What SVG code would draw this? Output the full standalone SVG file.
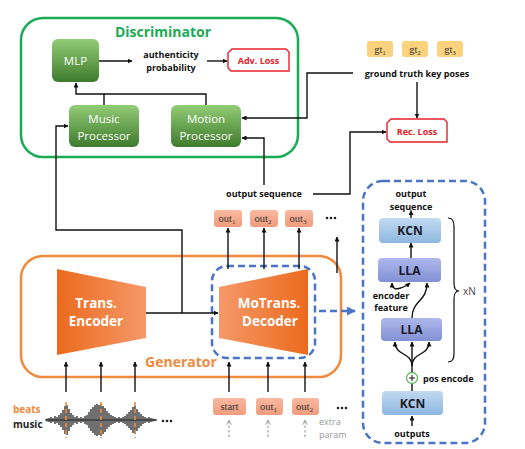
<svg xmlns="http://www.w3.org/2000/svg" width="525" height="449" viewBox="0 0 525 449">
<defs>
<linearGradient id="gGreen" x1="0" y1="0" x2="0" y2="1"><stop offset="0" stop-color="#93cc76"/><stop offset="1" stop-color="#3e7b2c"/></linearGradient>
<linearGradient id="gEnc" x1="0" y1="0" x2="1" y2="0"><stop offset="0" stop-color="#ec6a1c"/><stop offset="1" stop-color="#f5996a"/></linearGradient>
<linearGradient id="gDec" x1="0" y1="0" x2="1" y2="0"><stop offset="0" stop-color="#f5996a"/><stop offset="1" stop-color="#ec6a1c"/></linearGradient>
<linearGradient id="gKCN" x1="0" y1="0" x2="0" y2="1"><stop offset="0" stop-color="#c2daf1"/><stop offset="1" stop-color="#8db6df"/></linearGradient>
<linearGradient id="gLLA" x1="0" y1="0" x2="0" y2="1"><stop offset="0" stop-color="#aeb8ec"/><stop offset="1" stop-color="#8290d4"/></linearGradient>
<linearGradient id="gOut" x1="0" y1="0" x2="0" y2="1"><stop offset="0" stop-color="#f8b9a0"/><stop offset="1" stop-color="#f29c7c"/></linearGradient>
<marker id="ah" viewBox="0 0 10 10" refX="9" refY="5" markerWidth="5" markerHeight="5" markerUnits="userSpaceOnUse" orient="auto"><path d="M0 0 L10 5 L0 10 z" fill="#111"/></marker>
<marker id="ahBlue" viewBox="0 0 10 10" refX="9" refY="5" markerWidth="9" markerHeight="9" markerUnits="userSpaceOnUse" orient="auto"><path d="M0 0 L10 5 L0 10 z" fill="#4a74c4"/></marker>
<marker id="ahGray" viewBox="0 0 10 10" refX="9" refY="5" markerWidth="6" markerHeight="6" markerUnits="userSpaceOnUse" orient="auto"><path d="M1 1 L9 5 L1 9" fill="none" stroke="#999" stroke-width="1.5"/></marker>
</defs>
<style>
.b{font-family:"Open Sans","Noto Sans",sans-serif;font-weight:bold;}
.r{font-family:"Open Sans","Noto Sans",sans-serif;}
.s{font-family:"Liberation Serif","DejaVu Serif",serif;font-size:10.5px;fill:#333;}
.lbl{font-size:9px;fill:#111;}
.wt{fill:#fff;font-size:11.5px;}
.big{fill:#fff;font-size:13.5px;}
.conn{fill:none;stroke:#111;stroke-width:1.4;}
.loss{fill:#fff;stroke:#e8202a;stroke-width:1.4;}
.losst{fill:#e8202a;font-size:9px;}
.kt{font-size:12px;fill:#1a1a2a;}
</style>
<rect width="525" height="449" fill="#fff"/>

<!-- Discriminator -->
<g id="discriminator">
<rect x="21" y="18" width="277" height="139" rx="22" fill="#fff" stroke="#1aab55" stroke-width="2.5"/>
<text x="163" y="37" class="b" font-size="14" fill="#1aab55" text-anchor="middle">Discriminator</text>
</g>
<g id="mlp"><rect x="52" y="39" width="47" height="43" rx="6" fill="url(#gGreen)"/><text x="75.5" y="65" class="r wt" text-anchor="middle" font-size="12">MLP</text></g>
<g id="music-processor"><rect x="69" y="105" width="70" height="42" rx="6" fill="url(#gGreen)"/><text x="104" y="123" class="r wt" text-anchor="middle">Music</text><text x="104" y="139.5" class="r wt" text-anchor="middle">Processor</text></g>
<g id="motion-processor"><rect x="171" y="105" width="70" height="42" rx="6" fill="url(#gGreen)"/><text x="206" y="123" class="r wt" text-anchor="middle">Motion</text><text x="206" y="139.5" class="r wt" text-anchor="middle">Processor</text></g>
<g id="authenticity"><text x="171" y="58" class="b lbl" text-anchor="middle">authenticity</text><text x="171" y="70.5" class="b lbl" text-anchor="middle">probability</text></g>
<g id="adv-loss"><path d="M232 49 H286 L289 52 V71 H231 L228 68 V53 Z" class="loss"/><text x="258.5" y="64" class="b losst" text-anchor="middle">Adv. Loss</text></g>

<!-- gt -->
<g id="gt1"><rect x="367" y="41" width="26" height="16" rx="3" fill="#fdd27e"/><text x="380" y="52.5" class="s" text-anchor="middle">gt<tspan font-size="7" dy="2">1</tspan></text></g>
<g id="gt2"><rect x="402" y="41" width="26" height="16" rx="3" fill="#fdd27e"/><text x="415" y="52.5" class="s" text-anchor="middle">gt<tspan font-size="7" dy="2">2</tspan></text></g>
<g id="gt3"><rect x="437" y="41" width="26" height="16" rx="3" fill="#fdd27e"/><text x="450" y="52.5" class="s" text-anchor="middle">gt<tspan font-size="7" dy="2">3</tspan></text></g>
<g id="gt-label"><text x="417" y="77" class="b lbl" text-anchor="middle">ground truth key poses</text></g>
<g id="rec-loss"><path d="M391 119 H444 L447 122 V142 H390 L387 139 V123 Z" class="loss"/><text x="417" y="134.5" class="b losst" text-anchor="middle">Rec. Loss</text></g>

<!-- output sequence -->
<g id="output-sequence"><text x="264" y="197" class="b lbl" text-anchor="middle">output sequence</text></g>
<g id="out1-top"><rect x="214" y="210" width="28" height="17" rx="3" fill="url(#gOut)"/><text x="227" y="222" class="s" text-anchor="middle">out<tspan font-size="7" dy="2">1</tspan></text></g>
<g id="out2-top"><rect x="250" y="210" width="28" height="17" rx="3" fill="url(#gOut)"/><text x="263" y="222" class="s" text-anchor="middle">out<tspan font-size="7" dy="2">2</tspan></text></g>
<g id="out3-top"><rect x="285" y="210" width="28" height="17" rx="3" fill="url(#gOut)"/><text x="298" y="222" class="s" text-anchor="middle">out<tspan font-size="7" dy="2">3</tspan></text></g>
<g id="dots-top" fill="#222"><circle cx="327" cy="218" r="1.3"/><circle cx="331" cy="218" r="1.3"/><circle cx="335" cy="218" r="1.3"/></g>

<!-- Generator -->
<g id="generator">
<rect x="21" y="256" width="320" height="121" rx="22" fill="#fff" stroke="#f08a3c" stroke-width="2.5"/>
<text x="181" y="367" class="b" font-size="14" fill="#f08a3c" text-anchor="middle">Generator</text>
</g>
<g id="trans-encoder"><path d="M57 269 L146 287 V338 L57 355 Z" fill="url(#gEnc)"/><text x="96" y="308" class="b big" text-anchor="middle">Trans.</text><text x="96" y="326" class="b big" text-anchor="middle">Encoder</text></g>
<g id="motrans-decoder"><path d="M219 287 L308 269 V355 L219 338 Z" fill="url(#gDec)"/><text x="269" y="308" class="b big" text-anchor="middle">MoTrans.</text><text x="270" y="326" class="b big" text-anchor="middle">Decoder</text></g>
<g id="decoder-highlight"><rect x="212" y="266" width="103" height="92" rx="15" fill="none" stroke="#4a74c4" stroke-width="2.5" stroke-dasharray="7 4"/></g>

<!-- bottom inputs -->
<g id="start-in"><rect x="213" y="398" width="33" height="17" rx="3" fill="url(#gOut)"/><text x="229.5" y="410" class="s" text-anchor="middle">start</text></g>
<g id="out1-in"><rect x="256" y="398" width="27" height="17" rx="3" fill="url(#gOut)"/><text x="268.5" y="410" class="s" text-anchor="middle">out<tspan font-size="7" dy="2">1</tspan></text></g>
<g id="out2-in"><rect x="292" y="398" width="27" height="17" rx="3" fill="url(#gOut)"/><text x="304.5" y="410" class="s" text-anchor="middle">out<tspan font-size="7" dy="2">2</tspan></text></g>
<g id="dots-bottom" fill="#222"><circle cx="338" cy="408" r="1.3"/><circle cx="342" cy="408" r="1.3"/><circle cx="346" cy="408" r="1.3"/></g>
<g id="extra-param"><text x="319" y="425" class="r" font-size="9" fill="#999">extra</text><text x="319" y="437.5" class="r" font-size="9" fill="#999">param</text></g>

<g id="music-input">
<text x="13" y="413" class="b" font-size="10" fill="#f08a3c">beats</text>
<text x="13" y="428" class="b" font-size="10" fill="#222">music</text>
<path d="M45 420 H157" stroke="#222" stroke-width="1"/>
<path stroke="#222" stroke-width="1.3" d="M47 418.5V421.5M49 418V422M51 417V423M53 418V422M55 416V424M57 417V423M59 415V425M61 413V427M63 410V430M65 406V434M67 405V435M69 409V431M71 413V427M73 415V425M75 417V423M77 416V424M79 418V422M81 417V423M83 418V422M85 416V424M87 415V425M89 412V428M91 409V431M93 407V433M95 405V435M97 404V436M99 405V435M101 404V436M103 406V434M105 408V432M107 411V429M109 413V427M111 415V425M113 416V424M115 417V423M117 418V422M119 417V423M121 418V422M123 417V423M125 416V424M127 414V426M129 412V428M131 410V430M133 407V433M135 406V434M137 409V431M139 412V428M141 414V426M143 416V424M145 417V423M147 418V422M149 417V423M151 418V422M153 418.5V421.5M155 419V421"/>
<g fill="#222"><circle cx="163" cy="421" r="1.3"/><circle cx="167" cy="421" r="1.3"/><circle cx="171" cy="421" r="1.3"/></g>
<path d="M66 402V438M101 402V438M135 402V438" stroke="#f08a3c" stroke-width="1.6" stroke-dasharray="4 3"/>
</g>

<!-- Right panel: decoder detail -->
<g id="decoder-detail"><rect x="363" y="181" width="122" height="262" rx="20" fill="none" stroke="#4a74c4" stroke-width="2.5" stroke-dasharray="7 4"/></g>
<g id="out-seq-label"><text x="411" y="197" class="b lbl" text-anchor="middle">output</text><text x="411" y="209.5" class="b lbl" text-anchor="middle">sequence</text></g>
<g id="kcn-top"><rect x="379" y="218" width="62" height="25" rx="4" fill="url(#gKCN)"/><text x="410" y="235" class="b kt" text-anchor="middle">KCN</text></g>
<g id="lla-top"><rect x="378" y="258" width="63" height="24" rx="4" fill="url(#gLLA)"/><text x="409.5" y="274.5" class="b kt" text-anchor="middle">LLA</text></g>
<g id="encoder-feature"><text x="391" y="298.5" class="b lbl" text-anchor="middle">encoder</text><text x="391" y="311" class="b lbl" text-anchor="middle">feature</text></g>
<g id="lla-bottom"><rect x="381" y="318" width="61" height="23" rx="4" fill="url(#gLLA)"/><text x="411.5" y="334" class="b kt" text-anchor="middle">LLA</text></g>
<g id="pos-encode"><circle cx="412" cy="378" r="5.5" fill="#fff" stroke="#5cb85c" stroke-width="1.3"/><path d="M409 378H415M412 375V381" stroke="#111" stroke-width="1"/><text x="423" y="381.5" class="b lbl">pos encode</text></g>
<g id="kcn-bottom"><rect x="382" y="391" width="61" height="24" rx="4" fill="url(#gKCN)"/><text x="412.5" y="407.5" class="b kt" text-anchor="middle">KCN</text></g>
<g id="outputs-label"><text x="412" y="437" class="b lbl" text-anchor="middle">outputs</text></g>
<g id="repeat-brace"><path d="M448 218 Q454 218 454 226 V283 Q454 291 459 291 Q454 291 454 299 V354 Q454 362 448 362" fill="none" stroke="#111" stroke-width="1.2"/><text x="463" y="295" class="r" font-size="10" fill="#444">xN</text></g>

<!-- Connectors -->
<g id="connectors">
<path class="conn" d="M99 61 H132" marker-end="url(#ah)"/>
<path class="conn" d="M207 61 H227" marker-end="url(#ah)"/>
<path class="conn" d="M206 105 V94 H104"/>
<path class="conn" d="M104 105 V94 H76 V83" marker-end="url(#ah)"/>
<path class="conn" d="M146 313 H218" marker-end="url(#ah)"/>
<path class="conn" d="M182 313 V230 H56 V126 H68" marker-end="url(#ah)"/>
<path class="conn" d="M353 73 H307 V118 H242" marker-end="url(#ah)"/>
<path class="conn" d="M264 185 V138 H242" marker-end="url(#ah)"/>
<path class="conn" d="M313 194 H350 V132 H386" marker-end="url(#ah)"/>
<path class="conn" d="M417 82 V118" marker-end="url(#ah)"/>
<path class="conn" d="M228 269 V228" marker-end="url(#ah)"/>
<path class="conn" d="M264 269 V228" marker-end="url(#ah)"/>
<path class="conn" d="M299 269 V228" marker-end="url(#ah)"/>
<path class="conn" d="M337 273 V237" marker-end="url(#ah)"/>
<path class="conn" d="M66 392 V362" marker-end="url(#ah)"/>
<path class="conn" d="M101 392 V362" marker-end="url(#ah)"/>
<path class="conn" d="M135 392 V362" marker-end="url(#ah)"/>
<path class="conn" d="M229 392 V362" marker-end="url(#ah)"/>
<path class="conn" d="M268 392 V362" marker-end="url(#ah)"/>
<path class="conn" d="M305 392 V362" marker-end="url(#ah)"/>
<path d="M229 437 V420 M268 437 V420 M305 437 V420" fill="none" stroke="#999" stroke-width="1.1" stroke-dasharray="2.5 2"/>
<path d="M229 426 V420" fill="none" stroke="none" marker-end="url(#ahGray)"/>
<path d="M268 426 V420" fill="none" stroke="none" marker-end="url(#ahGray)"/>
<path d="M305 426 V420" fill="none" stroke="none" marker-end="url(#ahGray)"/>
<path d="M319 311 H355" fill="none" stroke="#4a74c4" stroke-width="2.5" stroke-dasharray="7 4" marker-end="url(#ahBlue)"/>
<path class="conn" d="M411 218 V210.5" marker-end="url(#ah)"/>
<path class="conn" d="M411 258 V243" marker-end="url(#ah)"/>
<path class="conn" d="M396 289 Q392 288 392 283" marker-end="url(#ah)"/>
<path class="conn" d="M396 289 Q404 288 410 283" marker-end="url(#ah)"/>
<path class="conn" d="M412 318 C412 300 427 302 427 283" marker-end="url(#ah)"/>
<path class="conn" d="M412 372 V342" marker-end="url(#ah)"/>
<path class="conn" d="M412 366 C412 352 395 356 395 342" marker-end="url(#ah)"/>
<path class="conn" d="M412 366 C412 352 429 356 429 342" marker-end="url(#ah)"/>
<path class="conn" d="M412 384 V391"/>
<path class="conn" d="M412 426 V416" marker-end="url(#ah)"/>
</g>
</svg>
